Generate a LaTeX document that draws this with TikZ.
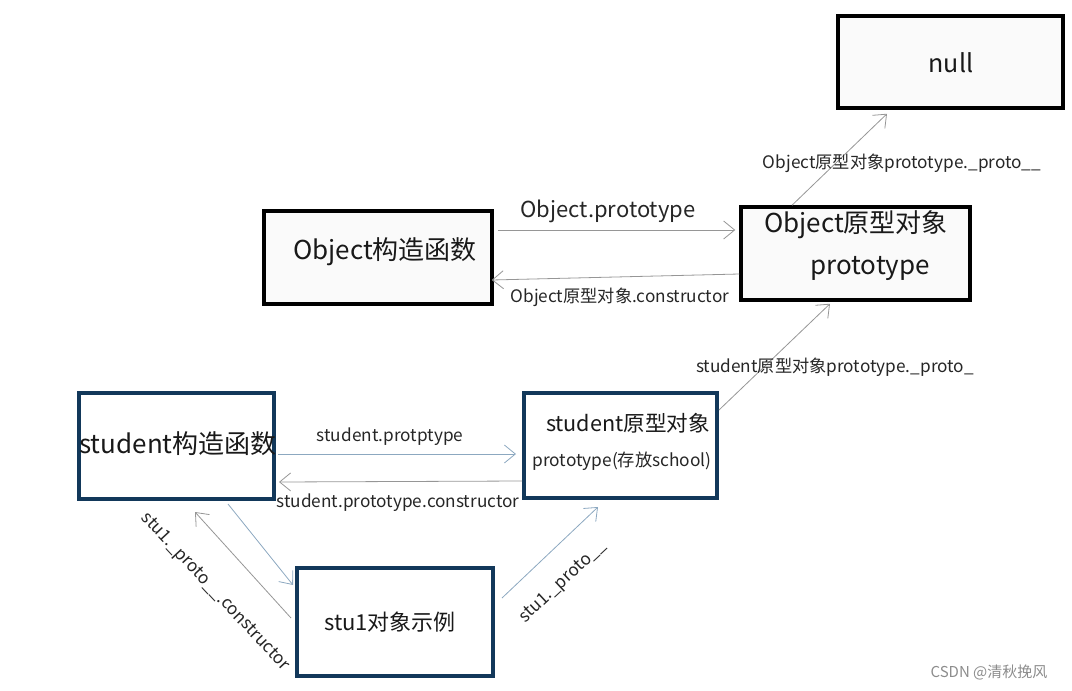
\documentclass[tikz,border=0pt]{standalone}
\usepackage{fontspec}
\setmainfont{Noto Sans CJK SC}
\usetikzlibrary{positioning, arrows.meta}

\definecolor{navy}{RGB}{18,56,90}
\definecolor{linegray}{RGB}{150,150,150}
\definecolor{lineblue}{RGB}{140,168,192}
\definecolor{boxfill}{RGB}{250,250,250}

\tikzset{
  objbox/.style={draw=black, line width=3.5pt, fill=boxfill, inner sep=0pt},
  stubox/.style={draw=navy, line width=4pt, fill=white, inner sep=0pt},
  garrow/.style={draw=linegray, line width=0.8pt, -{Straight Barb[length=11pt,width=18pt]}},
  barrow/.style={draw=lineblue, line width=0.8pt, -{Straight Barb[length=11pt,width=18pt]}},
  bigtxt/.style={text=black!90, font=\fontsize{26}{30}\selectfont, inner sep=0pt},
  lbl/.style={text=black!85, font=\fontsize{17.2}{20}\selectfont, inner sep=0pt}
}

\begin{document}
\begin{tikzpicture}[x=1pt,y=-1pt]

\useasboundingbox (0,0) rectangle (1072,691);

% boxes
\node[objbox, minimum width=225pt, minimum height=92pt] (nullbox) at (950.5,62) {};
\node[objbox, minimum width=228pt, minimum height=93pt] (objfn) at (378,257.5) {};
\node[objbox, minimum width=229pt, minimum height=93pt] (objproto) at (855.5,253.5) {};
\node[stubox, minimum width=195pt, minimum height=106pt] (stufn) at (176.5,446) {};
\node[stubox, minimum width=193pt, minimum height=105pt] (stuproto) at (620.5,445.5) {};
\node[stubox, minimum width=196pt, minimum height=108pt] (stuone) at (395,622) {};

% box texts
\node[bigtxt, font=\fontsize{25}{30}\selectfont] (nulltxt) at (951,63) {null};
\node[bigtxt] (objfntxt) at (385,252) {Object构造函数};
\node[bigtxt] (objprototxt) at (856,225) {Object原型对象};
\node[bigtxt] (objprotoname) at (870,268) {prototype};
\node[bigtxt] (stufntxt) at (178,444) {student构造函数};
\node[bigtxt, font=\fontsize{21.6}{26}\selectfont] (stuprototxt) at (628,423) {student原型对象};
\node[lbl, font=\fontsize{17.3}{20}\selectfont] (stuprotoname) at (622,461) {prototype(存放school)};
\node[bigtxt, font=\fontsize{22}{26}\selectfont] (stuonetxt) at (390,622) {stu1对象示例};

% arrows
\draw[garrow] ([shift={(4,-27.5)}]objfn.east) -- ([shift={(-4,-23.5)}]objproto.west);
\draw[garrow] ([shift={(0,20.5)}]objproto.west) -- ([shift={(-2,22.5)}]objfn.east);
\draw[garrow] ([shift={(-63.5,0)}]objproto.north) -- ([shift={(-63.5,4)}]nullbox.south);
\draw[garrow] ([shift={(0,-35.5)}]stuproto.east) -- ([shift={(-25.5,2)}]objproto.south);
\draw[barrow] ([shift={(2,8)}]stufn.east) -- ([shift={(-6,8.5)}]stuproto.west);
\draw[garrow] ([shift={(0,35.5)}]stuproto.west) -- ([shift={(3,36)}]stufn.east);
\draw[barrow] ([shift={(51.5,3)}]stufn.south) -- ([shift={(-2,19)}]stuone.north west);
\draw[garrow] ([shift={(-4,-4)}]stuone.west) -- ([shift={(18.5,11)}]stufn.south);
\draw[barrow] ([shift={(7,-24)}]stuone.east) -- ([shift={(-22.5,7)}]stuproto.south);

% arrow labels
\node[lbl, font=\fontsize{22}{26}\selectfont] (lobjproto) at (608,211) {Object.prototype};
\node[lbl] (lobjcons) at (620,297) {Object原型对象.constructor};
\node[lbl] (lnull) at (902,163) {Object原型对象prototype.\_proto\_\_};
\node[lbl] (lstuup) at (835,367) {student原型对象prototype.\_proto\_};
\node[lbl] (lstuproto) at (390,437) {student.protptype};
\node[lbl] (lstucons) at (398,503) {student.prototype.constructor};
\node[lbl, rotate=-47] (loncecons) at (215,592) {stu1.\_proto\_\_.constructor};
\node[lbl, rotate=43] (lonceproto) at (563,582) {stu1.\_proto\_\_};

% watermark
\node[text=black!45, font=\fontsize{15}{18}\selectfont, inner sep=0pt] (mark) at (989,672) {CSDN @清秋挽风};

\end{tikzpicture}
\end{document}
